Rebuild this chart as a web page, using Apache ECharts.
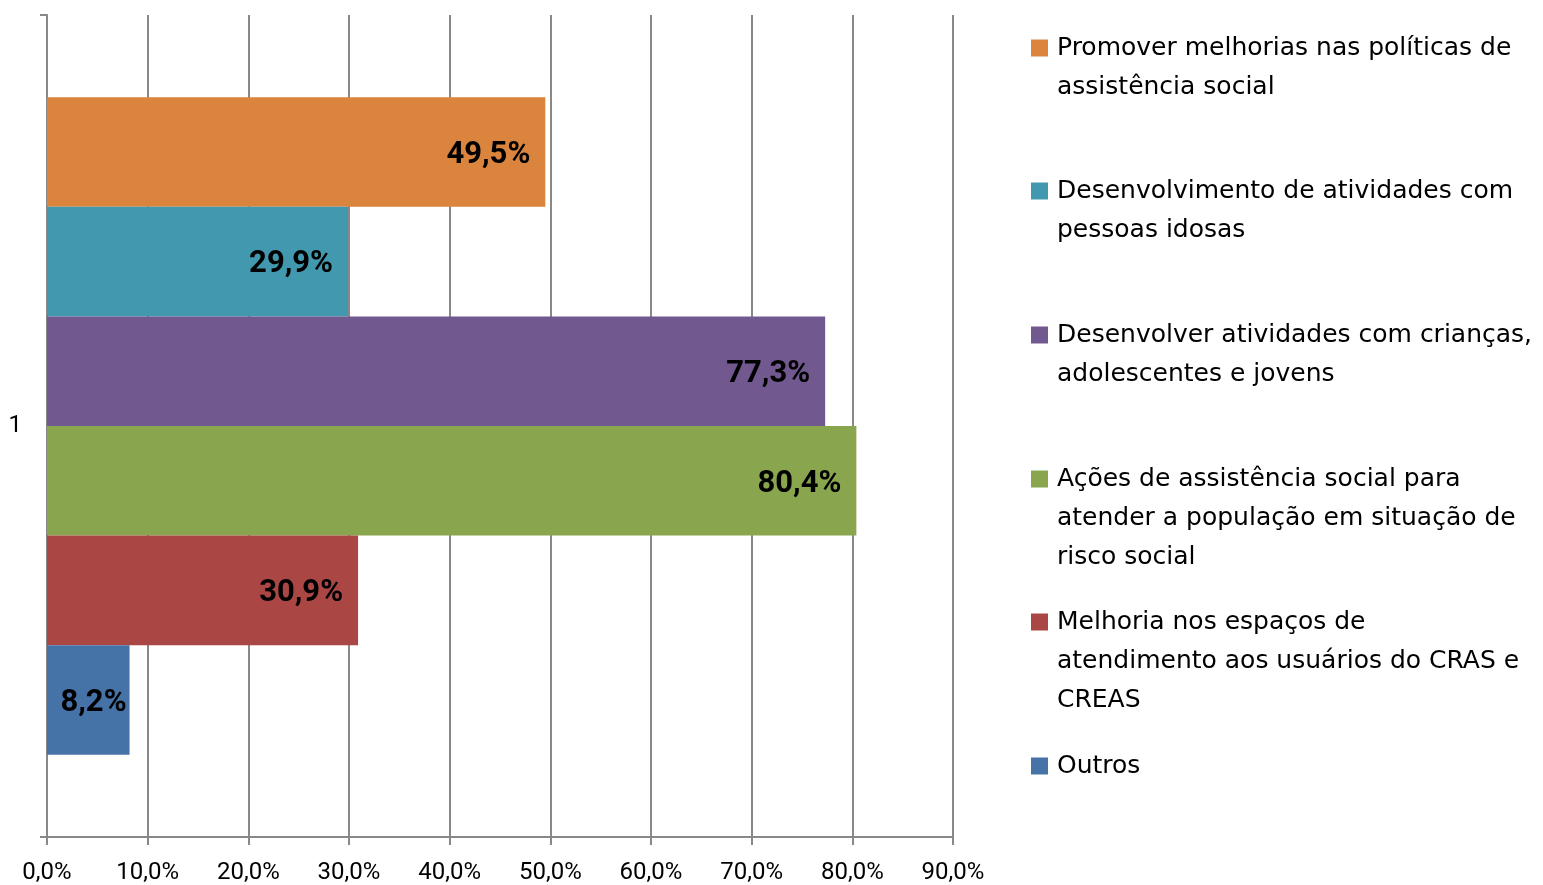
<!DOCTYPE html>
<html>
<head>
<meta charset="utf-8">
<script src="https://cdn.jsdelivr.net/npm/echarts@6/dist/echarts.min.js"></script>
<style>
html,body{margin:0;padding:0;background:#fff;}
#chart{width:1543px;height:885px;}
</style>
</head>
<body>
<div id="chart"></div>
<script>
const categories = ['1'];
const seriesNames = [
  'Promover melhorias nas políticas de\nassistência social',
  'Desenvolvimento de atividades com\npessoas idosas',
  'Desenvolver atividades com crianças,\nadolescentes e jovens',
  'Ações de assistência social para\natender a população em situação de\nrisco social',
  'Melhoria nos espaços de\natendimento aos usuários do CRAS e\nCREAS',
  'Outros'
];
const seriesValues = [49.5, 29.9, 77.3, 80.4, 30.9, 8.2];
const seriesColors = ['#DB843D', '#4198AF', '#71588F', '#89A54E', '#AA4643', '#4572A7'];
const xTickMax = 90;
const xTickStep = 10;

const FONT = 'Roboto, "Open Sans", sans-serif';
const LFONT = '"DejaVu Sans", sans-serif';
const LH = 39;
const legendCenters = [48, 191, 335, 479, 622, 766];

const series = seriesNames.map((name, i) => ({
  name: name,
  type: 'bar',
  data: [seriesValues[i]],
  barGap: '0%',
  barCategoryGap: '20%',
  itemStyle: { color: seriesColors[i] },
  label: {
    show: true,
    position: 'insideRight',
    distance: seriesValues[i] < 15 ? 4 : 16,
    offset: [1, 3],
    color: '#000',
    fontWeight: 'bold',
    fontSize: 31,
    fontFamily: FONT,
    formatter: p => p.value.toFixed(1).replace('.', ',') + '%'
  }
}));

const legends = seriesNames.map((name, i) => {
  const n = name.split('\n').length;
  return {
    data: [name],
    orient: 'vertical',
    left: 1031,
    top: legendCenters[i] - (2 * n - 1) * LH / 2,
    padding: 0,
    itemWidth: 17,
    itemHeight: 17,
    icon: 'rect',
    selectedMode: false,
    formatter: nm => '\n'.repeat(n - 1) + nm,
    textStyle: {
      fontFamily: LFONT,
      fontSize: 25,
      color: '#000',
      lineHeight: LH,
      padding: [0, 0, 0, 4]
    }
  };
});

const chart = echarts.init(document.getElementById('chart'));
chart.setOption({
  animation: false,
  backgroundColor: '#fff',
  legend: legends,
  grid: { left: 47, right: 590, top: 15, bottom: 47, containLabel: false },
  xAxis: {
    type: 'value',
    min: 0,
    max: xTickMax,
    interval: xTickStep,
    axisLine: { show: true, lineStyle: { color: '#888', width: 2 } },
    axisTick: { show: true, length: 8, lineStyle: { color: '#888', width: 2 } },
    splitLine: { show: true, lineStyle: { color: '#888', width: 2 } },
    axisLabel: {
      color: '#000',
      fontFamily: FONT,
      fontSize: 24,
      margin: 24,
      formatter: v => v.toFixed(1).replace('.', ',') + '%'
    }
  },
  yAxis: {
    type: 'category',
    data: categories,
    inverse: true,
    axisLine: { show: true, lineStyle: { color: '#888', width: 2 } },
    axisTick: { show: true, length: 7, lineStyle: { color: '#888', width: 2 } },
    axisLabel: { color: '#000', fontFamily: FONT, fontSize: 24, margin: 25 }
  },
  series: series
});
</script>
</body>
</html>
